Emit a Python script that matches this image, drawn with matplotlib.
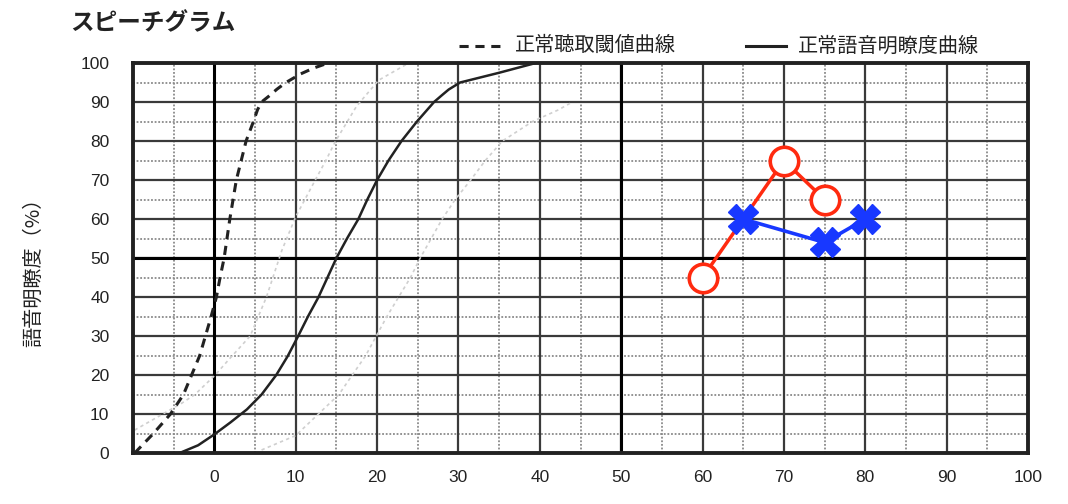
"""Speechgram (スピーチグラム) recreation."""
import matplotlib
matplotlib.use("Agg")
import matplotlib.pyplot as plt
from matplotlib.lines import Line2D

plt.rcParams["font.family"] = ["Liberation Sans", "Noto Sans CJK JP", "DejaVu Sans"]
JP = ["Noto Sans CJK JP", "DejaVu Sans"]

# normal hearing threshold curve (dashed)
thr_x = [-9.8, -7.5, -5.4, -3.8, -2.8, -1.8, -1.1, -0.4, 0.25, 0.7, 1.2, 1.55, 1.9, 2.3,
         2.7, 3.3, 3.9, 4.8, 5.3, 5.8, 6.7, 7.7, 8.8, 10.6, 12.2, 14.0]
thr_y = [0, 5, 10, 15, 20, 25, 30, 35, 40, 45, 50, 55, 60, 65,
         70, 75, 80, 85, 88, 90, 91.5, 93.3, 95, 97.2, 98.7, 100]

# normal speech intelligibility curve (solid)
int_x = [-4.3, -2.0, 0.0, 2.0, 4.0, 5.8, 7.6, 9.0, 10.3, 11.5, 12.8, 13.9, 15.0, 16.3, 17.7,
         18.8, 20.0, 21.4, 23.0, 24.9, 27.0, 28.0, 28.8, 30.2, 35.0, 39.5]
int_y = [0, 2.0, 4.8, 7.9, 11.2, 15, 20, 24.8, 30, 35, 40, 45, 50, 55, 60,
         65, 70, 75, 80, 85, 90, 91.8, 93.2, 95, 97.5, 100]

# light reference curves
ref1_x = [-9.8, -4.0, -2.4, 0.1, 1.7, 4.4, 6.4, 8.3, 10.0, 12.4, 13.7, 14.9, 17.5, 20.2, 23.9]
ref1_y = [5.9, 12.8, 15, 20, 23.8, 30, 40, 52, 60.6, 70, 75, 80, 89, 95.6, 100]
ref2_x = [5.8, 10.0, 15.3, 18.6, 21.2, 24.1, 25.3, 28.0, 29.6, 31.5, 33.3, 35.4, 39.1, 42.3, 44.0]
ref2_y = [0.8, 4.5, 15, 25, 35, 45, 50, 60, 65, 70, 75, 80, 85, 88, 90]

# measured results
red_x = [60, 70, 75]
red_y = [45, 75, 65]
blue_x = [65, 75, 80]
blue_y = [60, 54, 60]

x_ticks = [0, 10, 20, 30, 40, 50, 60, 70, 80, 90, 100]
y_ticks = [0, 10, 20, 30, 40, 50, 60, 70, 80, 90, 100]

fig = plt.figure(figsize=(10.68, 5.04), dpi=100)
ax = fig.add_axes([133 / 1068, 0.101, 895 / 1068, 0.774])
ax.set_xlim(-10, 100)
ax.set_ylim(0, 100)

# grid
for v in range(-5, 100, 10):
    ax.axvline(v, color="#8a8a8a", lw=1.3, ls=(0, (1, 1)), zorder=1)
for v in range(5, 100, 10):
    ax.axhline(v, color="#8a8a8a", lw=1.3, ls=(0, (1, 1)), zorder=1)
for v in range(10, 100, 10):
    ax.axvline(v, color="#3a3a3a", lw=1.6, zorder=1)
    ax.axhline(v, color="#3a3a3a", lw=1.6, zorder=1)
for v in [0, 50]:
    ax.axvline(v, color="black", lw=2.2, zorder=1.5)
ax.axhline(50, color="black", lw=2.2, zorder=1.5)

ax.plot(ref1_x, ref1_y, color="#cfcfcf", lw=1.2, ls=(0, (2, 2)), zorder=2)
ax.plot(ref2_x, ref2_y, color="#cfcfcf", lw=1.2, ls=(0, (2, 2)), zorder=2)
ax.plot(thr_x, thr_y, color="#222222", lw=2.2, ls=(0, (3, 2.2)), zorder=3)
ax.plot(int_x, int_y, color="#222222", lw=1.8, zorder=3)

ax.plot(red_x, red_y, color="#ff2a0f", lw=2.5, marker="o", ms=20.5,
        mfc="white", mec="#ff2a0f", mew=2.6, zorder=4)
ax.plot(blue_x, blue_y, color="#1838ff", lw=2.6, marker="X", ms=21,
        mfc="#1838ff", mec="#1838ff", zorder=5)

ax.set_xticks(x_ticks)
ax.set_yticks(y_ticks)
ax.tick_params(length=0, labelsize=12.5, labelcolor="#222222")
ax.tick_params(axis="y", pad=17)
ax.tick_params(axis="x", pad=12)
for s in ax.spines.values():
    s.set_linewidth(2.8)
    s.set_color("#222222")
    s.set_zorder(6)

fig.text(0.031, 0.47, "語音明瞭度（%）", family=JP, fontsize=14.5, rotation=90,
         va="center", ha="center", color="#222222")

fig.text(0.0655, 0.954, "スピーチグラム", family=JP, fontsize=17, weight="bold",
         va="center", ha="left", color="#222222")

# legend above the plot
fig.add_artist(Line2D([0.430, 0.469], [0.909, 0.909], transform=fig.transFigure,
                      color="#222222", lw=2.2, ls=(0, (3, 2.2))))
fig.text(0.482, 0.909, "正常聴取閾値曲線", family=JP, fontsize=14.5,
         va="center", ha="left", color="#222222")
fig.add_artist(Line2D([0.6985, 0.736], [0.909, 0.909], transform=fig.transFigure,
                      color="#222222", lw=2.2))
fig.text(0.747, 0.909, "正常語音明瞭度曲線", family=JP, fontsize=14.5,
         va="center", ha="left", color="#222222")

fig.savefig("out.png", dpi=100)
